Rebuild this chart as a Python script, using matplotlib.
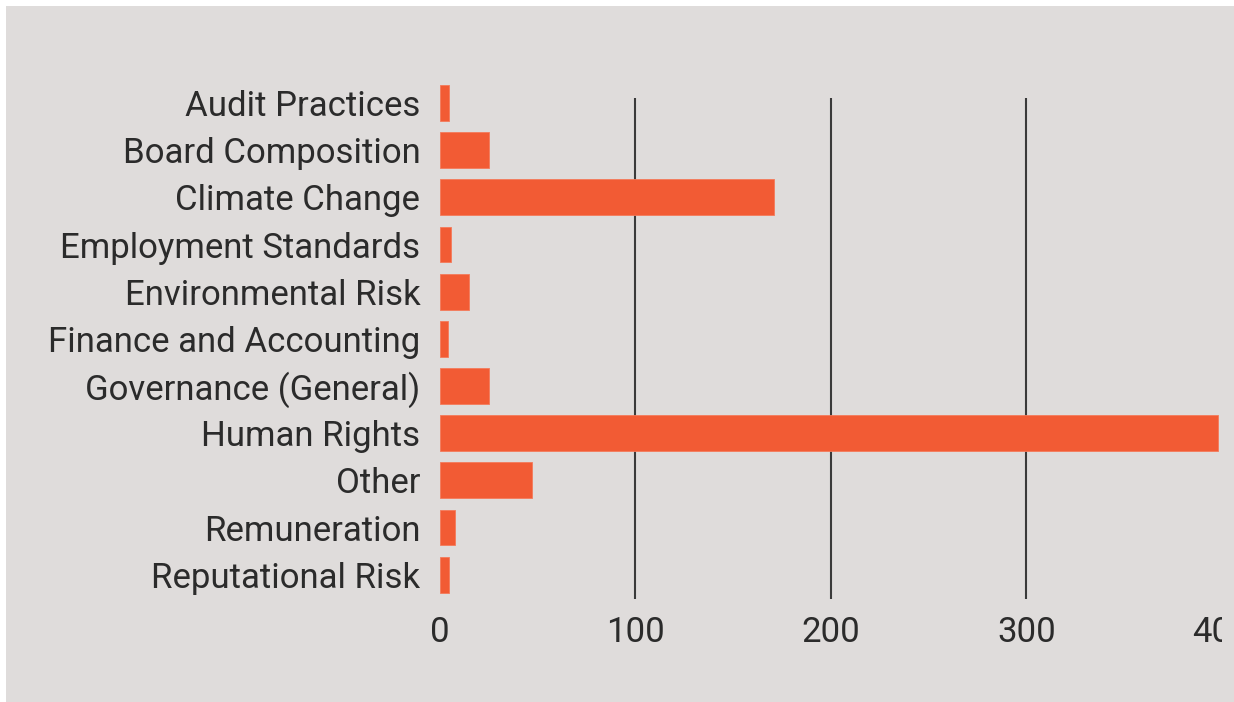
import matplotlib.pyplot as plt
from matplotlib.patches import Rectangle

plt.rcParams["font.family"] = ["Roboto", "DejaVu Sans"]

categories = [
    "Audit Practices",
    "Board Composition",
    "Climate Change",
    "Employment Standards",
    "Environmental Risk",
    "Finance and Accounting",
    "Governance (General)",
    "Human Rights",
    "Other",
    "Remuneration",
    "Reputational Risk",
]
values = [5, 25, 171, 6, 15, 4, 25, 398, 47, 8, 5]
xticks = [0, 100, 200, 300, 400]
grid_at = [100, 200, 300]

bg = "#dfdcdb"
bar_color = "#f25b34"
text_color = "#2b2b2b"

W, H = 1234, 702
fig = plt.figure(figsize=(W / 100, H / 100), dpi=100, facecolor="white")

# grey panel with a thin white margin on top and left
fig.patches.append(
    Rectangle((6 / W, 0), 1 - 6 / W, 1 - 6 / H, transform=fig.transFigure,
              facecolor=bg, edgecolor="none", zorder=-1)
)

left, right = 439.7 / W, 1222 / W
top, bottom = 1 - 98 / H, 1 - 599 / H
ax = fig.add_axes([left, bottom, right - left, top - bottom])
ax.set_facecolor("none")

pos = list(range(len(categories)))
for x in grid_at:
    ax.axvline(x, color="#3a3a3a", lw=1.5, zorder=1)
ax.barh(pos, values, height=0.76, color=bar_color, edgecolor="#f47a5a",
        linewidth=0.6, zorder=2, clip_on=False)

ax.set_xlim(0, 397.5)
ax.set_ylim(10.515, -0.106)
ax.set_yticks(pos)
ax.set_yticklabels(categories)
ax.set_xticks(xticks)
ax.set_xticklabels([str(v) for v in xticks])
ax.tick_params(axis="y", length=0, pad=14, labelsize=25, labelcolor=text_color)
ax.tick_params(axis="x", length=0, pad=12, labelsize=25, labelcolor=text_color)
for lbl in ax.get_yticklabels():
    lbl.set_y(lbl.get_position()[1])
for s in ax.spines.values():
    s.set_visible(False)

# the source image is cut off at the right, hiding part of the "400" label
fig.patches.append(
    Rectangle((1222 / W, 0.02), 1 - 1222 / W, 0.12, transform=fig.transFigure,
              facecolor=bg, edgecolor="none", zorder=10)
)

fig.savefig("out.png", dpi=100, facecolor="white")
